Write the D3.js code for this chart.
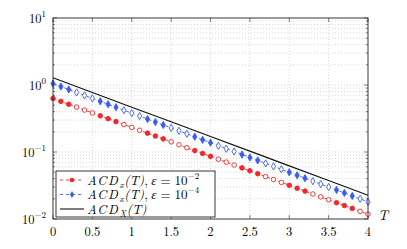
<!DOCTYPE html>
<html>
<head>
<meta charset="utf-8">
<script src="https://cdn.jsdelivr.net/npm/d3@7"></script>
<style>
  body { margin: 0; background: #fff; }
</style>
</head>
<body>
<svg id="chart" width="407" height="249"></svg>
<script>
// sample times, step 0.1 for the marked series
const tMarked = d3.range(41).map(i => +(i / 10).toFixed(1));
const tLine = [0, 0.5, 1, 1.5, 2, 2.5, 3, 3.5, 4];

const acdEps2 = [0.630, 0.570, 0.516, 0.467, 0.423, 0.383, 0.347, 0.314, 0.284, 0.257,
    0.233, 0.211, 0.191, 0.173, 0.157, 0.142, 0.128, 0.116, 0.105, 0.0951,
    0.0861, 0.0780, 0.0706, 0.0639, 0.0579, 0.0524, 0.0474, 0.0429, 0.0389, 0.0352,
    0.0319, 0.0288, 0.0261, 0.0236, 0.0214, 0.0194, 0.0175, 0.0159, 0.0144, 0.0130,
    0.0118];
const acdEps4 = [1.050, 0.949, 0.857, 0.774, 0.699, 0.632, 0.571, 0.516, 0.466, 0.421,
    0.380, 0.344, 0.310, 0.280, 0.253, 0.229, 0.207, 0.187, 0.169, 0.152,
    0.138, 0.124, 0.112, 0.102, 0.0917, 0.0828, 0.0748, 0.0676, 0.0611, 0.0552,
    0.0498, 0.0450, 0.0407, 0.0367, 0.0332, 0.0300, 0.0271, 0.0245, 0.0221, 0.0200,
    0.0180];
const acdX = [1.28, 0.773, 0.467, 0.282, 0.170, 0.103, 0.0621, 0.0375, 0.0227];

const xTicks = [0, 0.5, 1, 1.5, 2, 2.5, 3, 3.5, 4];
const xTickLabels = ["0", "0.5", "1", "1.5", "2", "2.5", "3", "3.5", "4"];
const decades = [-2, -1, 0, 1];

const FONT = '"Latin Modern Roman", "Liberation Serif", serif';
const margin = { top: 18, right: 39, bottom: 30, left: 53 };
const W = 407, H = 249;
const width = W - margin.left - margin.right;
const height = H - margin.top - margin.bottom;

const svg = d3.select("#chart");
const g = svg.append("g").attr("transform", `translate(${margin.left},${margin.top})`);

const x = d3.scaleLinear().domain([0, 4]).range([0, width]);
const y = d3.scaleLog().domain([1e-2, 1e1]).range([height, 0]);

const minorY = [];
decades.slice(0, -1).forEach(d => {
    for (let k = 2; k < 10; k++) minorY.push(k * Math.pow(10, d));
});

// grid
const grid = g.append("g").attr("stroke", "#bdbdbd").attr("stroke-width", 0.6)
        .attr("stroke-dasharray", "1,2");
grid.selectAll("line.minor").data(minorY).join("line")
        .attr("x1", 0).attr("x2", width)
        .attr("y1", d => y(d)).attr("y2", d => y(d));
grid.selectAll("line.vx").data(xTicks.slice(1, -1)).join("line")
        .attr("x1", d => x(d)).attr("x2", d => x(d))
        .attr("y1", 0).attr("y2", height);
grid.selectAll("line.hy").data([1e-1, 1e0]).join("line")
        .attr("x1", 0).attr("x2", width)
        .attr("y1", d => y(d)).attr("y2", d => y(d));

// ticks inside on all sides
const ticks = g.append("g").attr("stroke", "#333").attr("stroke-width", 0.6);
xTicks.forEach(t => {
    ticks.append("line").attr("x1", x(t)).attr("x2", x(t)).attr("y1", height).attr("y2", height - 4);
    ticks.append("line").attr("x1", x(t)).attr("x2", x(t)).attr("y1", 0).attr("y2", 4);
});
decades.forEach(d => {
    const yy = y(Math.pow(10, d));
    ticks.append("line").attr("x1", 0).attr("x2", 4).attr("y1", yy).attr("y2", yy);
    ticks.append("line").attr("x1", width).attr("x2", width - 4).attr("y1", yy).attr("y2", yy);
});
minorY.forEach(v => {
    ticks.append("line").attr("x1", 0).attr("x2", 2).attr("y1", y(v)).attr("y2", y(v));
    ticks.append("line").attr("x1", width).attr("x2", width - 2).attr("y1", y(v)).attr("y2", y(v));
});

// series
const lineGen = d3.line().x(d => x(d[0])).y(d => y(d[1]));
const red = "#f0282a", blue = "#3a5cf0";

g.append("path").datum(tLine.map((t, i) => [t, acdX[i]]))
        .attr("d", lineGen).attr("fill", "none").attr("stroke", "#111").attr("stroke-width", 1.1);

const redPts = tMarked.map((t, i) => [t, acdEps2[i], i]);
const bluePts = tMarked.map((t, i) => [t, acdEps4[i], i]);
const isOpen = i => Math.floor(i / 3) % 2 === 1;

g.append("path").datum(bluePts).attr("d", lineGen).attr("fill", "none")
        .attr("stroke", blue).attr("stroke-width", 0.9).attr("stroke-dasharray", "3,3");
g.append("path").datum(redPts).attr("d", lineGen).attr("fill", "none")
        .attr("stroke", red).attr("stroke-width", 0.9).attr("stroke-dasharray", "3,3");

const diamond = d3.symbol().type(d3.symbolDiamond).size(15);
g.selectAll("path.bm").data(bluePts).join("path")
        .attr("d", diamond)
        .attr("transform", d => `translate(${x(d[0])},${y(d[1])})`)
        .attr("fill", d => isOpen(d[2]) ? "#fff" : blue)
        .attr("stroke", blue).attr("stroke-width", 0.9);
g.selectAll("circle.rm").data(redPts).join("circle")
        .attr("cx", d => x(d[0])).attr("cy", d => y(d[1])).attr("r", 2.3)
        .attr("fill", d => isOpen(d[2]) ? "#fff" : red)
        .attr("stroke", red).attr("stroke-width", 0.9);

// frame
g.append("rect").attr("width", width).attr("height", height)
        .attr("fill", "none").attr("stroke", "#222").attr("stroke-width", 0.9);

// x tick labels
g.selectAll("text.xl").data(xTicks).join("text")
        .style("font-family", FONT)
        .attr("x", d => x(d)).attr("y", height + 17)
        .attr("text-anchor", "middle").attr("font-size", 12.5)
        .text((d, i) => xTickLabels[i]);
g.append("text").style("font-family", FONT).attr("x", width + 10).attr("y", height + 1)
        .attr("font-size", 14).attr("font-style", "italic").text("T");

// y tick labels 10^k
decades.forEach(d => {
    const t = g.append("text").style("font-family", FONT)
            .attr("x", -7).attr("y", y(Math.pow(10, d)) + 5)
            .attr("text-anchor", "end").attr("font-size", 12.5);
    t.append("tspan").text("10");
    t.append("tspan").attr("dy", -6).attr("font-size", 9).text(d < 0 ? "\u2212" + (-d) : d);
});

// legend
const lg = g.append("g").attr("transform", `translate(3,${height - 48})`);
lg.append("rect").attr("width", 159).attr("height", 46)
        .attr("fill", "#fff").attr("stroke", "#222").attr("stroke-width", 0.9);
const rows = [
    { color: red, mark: "circle", dash: "3,3", sub: "x", eps: "\u22122" },
    { color: blue, mark: "diamond", dash: "3,3", sub: "x", eps: "\u22124" },
    { color: "#111", mark: null, dash: null, sub: "X", eps: null }
];
rows.forEach((r, i) => {
    const cy = 9 + i * 14.5;
    lg.append("line").attr("x1", 4).attr("x2", 28).attr("y1", cy).attr("y2", cy)
            .attr("stroke", r.color).attr("stroke-width", r.mark ? 0.9 : 1.1)
            .attr("stroke-dasharray", r.dash);
    if (r.mark === "circle")
        lg.append("circle").attr("cx", 16).attr("cy", cy).attr("r", 2.3).attr("fill", r.color);
    if (r.mark === "diamond")
        lg.append("path").attr("d", diamond).attr("transform", `translate(16,${cy})`).attr("fill", r.color);

    // pieces of the math label: [text, italic, size, baseline shift, gap before]
    const parts = [["ACD", true, 13, 0, 0], [r.sub, true, 9, 3, 0.5], ["(T)", true, 13, 0, 0.5]];
    if (r.eps) {
        parts.push([",", false, 13, 0, 0], ["\u03b5", true, 13, 0, 3.5],
                ["=", false, 13, 0, 4], ["10", false, 13, 0, 4], [r.eps, false, 9, -6, 0.3]);
    }
    let cx = 31;
    parts.forEach(([txt, it, size, shift, gap]) => {
        cx += gap;
        const el = lg.append("text").style("font-family", FONT)
                .attr("x", cx).attr("y", cy + 4.5 + shift)
                .attr("font-size", size).attr("font-style", it ? "italic" : "normal")
                .attr("letter-spacing", txt === "ACD" ? 1.3 : null)
                .text(txt);
        cx += el.node().getComputedTextLength();
    });
});
</script>
</body>
</html>
